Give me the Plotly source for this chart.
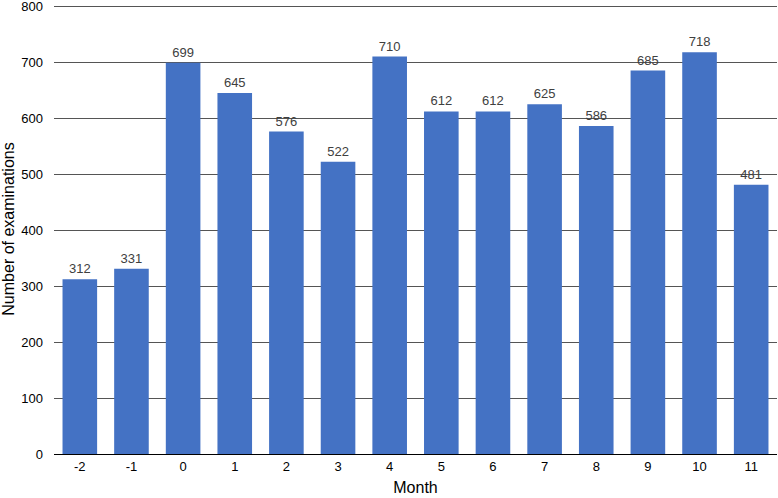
import plotly.graph_objects as go

months = ["-2", "-1", "0", "1", "2", "3", "4", "5", "6", "7", "8", "9", "10", "11"]
exams = [312, 331, 699, 645, 576, 522, 710, 612, 612, 625, 586, 685, 718, 481]

fig = go.Figure()
fig.add_trace(go.Bar(
    x=months, y=exams,
    marker=dict(color="#4472C4", line=dict(width=0)),
    text=exams, textposition="outside",
    textfont=dict(family="Liberation Sans, Arial", size=13, color="#404040"),
    cliponaxis=False,
))

fig.update_layout(
    width=778, height=498,
    margin=dict(l=54, r=1, t=4, b=44, autoexpand=False),
    paper_bgcolor="white", plot_bgcolor="white",
    font=dict(family="Liberation Sans, Arial", color="black"),
    bargap=0.33,
    showlegend=False,
)
fig.update_xaxes(
    type="category", automargin=False,
    title=dict(text="Month", font=dict(size=16), standoff=9),
    tickfont=dict(size=13),
    showgrid=False, showline=True, linecolor="black", linewidth=1,
    ticks="", ticklen=0,
)
fig.update_yaxes(
    range=[0, 804], tickvals=[0, 100, 200, 300, 400, 500, 600, 700, 800],
    automargin=False, ticklabeloverflow="allow",
    title=dict(text="Number of examinations", font=dict(size=16), standoff=6),
    tickfont=dict(size=13),
    showgrid=True, gridcolor="#555555", gridwidth=1,
    zeroline=True, zerolinecolor="black", zerolinewidth=1,
    ticks="", ticklabelstandoff=10,
)

fig.write_html(
    "out.html",
    config={"displayModeBar": False},
    post_script="document.body.style.margin='0';document.body.style.overflow='hidden';",
)
